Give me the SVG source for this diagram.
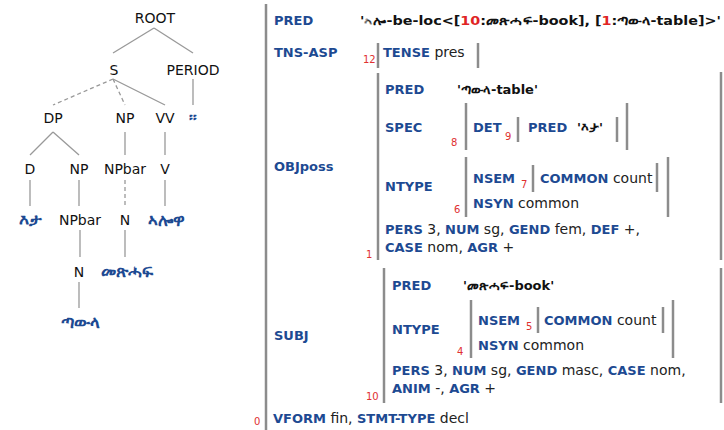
<svg xmlns="http://www.w3.org/2000/svg" width="724" height="430" viewBox="0 0 724 430">
<style>
text{font-family:"DejaVu Sans","Noto Sans",sans-serif;font-size:13px}
.lab{font-weight:bold;fill:#1d4a92}
.v{font-weight:normal;fill:#222;font-size:14px}
.pv{font-weight:bold;fill:#111}
.rn{font-weight:bold;fill:#e02424}
.num{font-size:10px;fill:#e03030}
.bar{stroke:#8c8c8c;stroke-width:2.5;fill:none}
.t{font-size:14px;fill:#111;text-anchor:middle}
.leaf{font-size:17px;font-weight:bold;fill:#1d4a92;text-anchor:middle}
.e{stroke:#999;stroke-width:1.3;fill:none}
.d{stroke:#999;stroke-width:1.3;fill:none;stroke-dasharray:4 3}
</style>
<rect width="724" height="430" fill="#fff"/>
<g id="connectors">
<line class="e" x1="154" y1="28" x2="113" y2="53"/>
<line class="e" x1="154" y1="28" x2="193" y2="53"/>
<line class="d" x1="113" y1="79" x2="53" y2="105"/>
<line class="d" x1="113" y1="79" x2="125" y2="105"/>
<line class="e" x1="113" y1="79" x2="165" y2="105"/>
<line class="e" x1="193" y1="79" x2="193" y2="105"/>
<line class="e" x1="53" y1="132" x2="30" y2="155"/>
<line class="e" x1="53" y1="132" x2="79" y2="155"/>
<line class="e" x1="125" y1="132" x2="125" y2="155"/>
<line class="e" x1="165" y1="132" x2="165" y2="155"/>
<line class="e" x1="30" y1="180" x2="30" y2="206"/>
<line class="e" x1="79" y1="180" x2="79" y2="206"/>
<line class="d" x1="125" y1="180" x2="125" y2="206"/>
<line class="e" x1="165" y1="180" x2="165" y2="206"/>
<line class="e" x1="80" y1="230" x2="80" y2="257"/>
<line class="e" x1="125" y1="230" x2="125" y2="257"/>
<line class="e" x1="79" y1="282" x2="79" y2="308"/>
</g>
<g id="n-root"><text class="t" x="155" y="23">ROOT</text></g>
<g id="n-s"><text class="t" x="114" y="75">S</text></g>
<g id="n-period"><text class="t" x="193" y="75">PERIOD</text></g>
<g id="n-stop"><text class="leaf" x="193" y="123">።</text></g>
<g id="n-dp"><text class="t" x="53" y="123">DP</text></g>
<g id="n-np1"><text class="t" x="125" y="123">NP</text></g>
<g id="n-vv"><text class="t" x="165" y="123">VV</text></g>
<g id="n-d"><text class="t" x="30" y="174">D</text></g>
<g id="n-np2"><text class="t" x="79" y="174">NP</text></g>
<g id="n-npbar1"><text class="t" x="125" y="174">NPbar</text></g>
<g id="n-v"><text class="t" x="165" y="174">V</text></g>
<g id="n-eta"><text class="leaf" x="30" y="226">እታ</text></g>
<g id="n-npbar2"><text class="t" x="80" y="225">NPbar</text></g>
<g id="n-n1"><text class="t" x="125" y="225">N</text></g>
<g id="n-alowa"><text class="leaf" x="166" y="226">ኣሎዋ</text></g>
<g id="n-n2"><text class="t" x="79" y="277">N</text></g>
<g id="n-metshaf"><text class="leaf" x="127" y="277">መጽሓፍ</text></g>
<g id="n-tawla"><text class="leaf" x="80" y="328">ጣውላ</text></g>

<g id="fstructure">
<line class="bar" x1="266" y1="4" x2="266" y2="430"/>
<text class="lab" x="274" y="25">PRED</text>
<text class="pv" x="360" y="25" textLength="361" lengthAdjust="spacingAndGlyphs">'ኣሎ-be-loc&lt;[<tspan class="rn">10</tspan>:መጽሓፍ-book], [<tspan class="rn">1</tspan>:ጣውላ-table]&gt;'</text>
<text class="lab" x="274" y="57">TNS-ASP</text>
<text class="num" x="363" y="63">12</text>
<line class="bar" x1="378" y1="43" x2="378" y2="68"/>
<text class="lab" x="383" y="57">TENSE <tspan class="v">pres</tspan></text>
<line class="bar" x1="478" y1="43" x2="478" y2="68"/>

<text class="lab" x="274" y="171">OBJposs</text>
<line class="bar" x1="378" y1="73" x2="378" y2="260"/>
<text class="num" x="366" y="258">1</text>
<line class="bar" x1="721" y1="72" x2="721" y2="260"/>
<text class="lab" x="385" y="94">PRED</text>
<text class="pv" x="457" y="94">'ጣውላ-table'</text>
<text class="lab" x="385" y="132">SPEC</text>
<text class="num" x="451" y="146">8</text>
<line class="bar" x1="466" y1="103" x2="466" y2="150"/>
<text class="lab" x="473" y="132">DET</text>
<text class="num" x="505" y="140">9</text>
<line class="bar" x1="518" y1="117" x2="518" y2="142"/>
<text class="lab" x="528" y="132">PRED</text>
<text class="pv" x="577" y="132">'እታ'</text>
<line class="bar" x1="617" y1="117" x2="617" y2="142"/>
<line class="bar" x1="627" y1="103" x2="627" y2="150"/>
<text class="lab" x="385" y="191">NTYPE</text>
<text class="num" x="454" y="213">6</text>
<line class="bar" x1="466" y1="157" x2="466" y2="217"/>
<text class="lab" x="473" y="183">NSEM</text>
<text class="num" x="521" y="188">7</text>
<line class="bar" x1="533" y1="165" x2="533" y2="192"/>
<text class="lab" x="540" y="183">COMMON <tspan class="v">count</tspan></text>
<line class="bar" x1="657" y1="163" x2="657" y2="192"/>
<line class="bar" x1="668" y1="157" x2="668" y2="217"/>
<text class="lab" x="473" y="208">NSYN <tspan class="v">common</tspan></text>
<text class="lab" x="385" y="234">PERS<tspan class="v"> 3, </tspan>NUM<tspan class="v"> sg, </tspan>GEND<tspan class="v"> fem, </tspan>DEF<tspan class="v"> +,</tspan></text>
<text class="lab" x="385" y="252">CASE<tspan class="v"> nom, </tspan>AGR<tspan class="v"> +</tspan></text>

<text class="lab" x="274" y="340">SUBJ</text>
<line class="bar" x1="384" y1="268" x2="384" y2="403"/>
<text class="num" x="366" y="400">10</text>
<line class="bar" x1="721" y1="268" x2="721" y2="403"/>
<text class="lab" x="392" y="290">PRED</text>
<text class="pv" x="463" y="290">'መጽሓፍ-book'</text>
<text class="lab" x="392" y="334">NTYPE</text>
<text class="num" x="457" y="355">4</text>
<line class="bar" x1="471" y1="300" x2="471" y2="358"/>
<text class="lab" x="478" y="325">NSEM</text>
<text class="num" x="526" y="330">5</text>
<line class="bar" x1="538" y1="307" x2="538" y2="333"/>
<text class="lab" x="544" y="325">COMMON <tspan class="v">count</tspan></text>
<line class="bar" x1="663" y1="307" x2="663" y2="333"/>
<line class="bar" x1="673" y1="300" x2="673" y2="358"/>
<text class="lab" x="478" y="350">NSYN <tspan class="v">common</tspan></text>
<text class="lab" x="392" y="375">PERS<tspan class="v"> 3, </tspan>NUM<tspan class="v"> sg, </tspan>GEND<tspan class="v"> masc, </tspan>CASE<tspan class="v"> nom,</tspan></text>
<text class="lab" x="392" y="393">ANIM<tspan class="v"> -, </tspan>AGR<tspan class="v"> +</tspan></text>

<text class="num" x="254" y="425">0</text>
<text class="lab" x="273" y="423">VFORM<tspan class="v"> fin, </tspan>STMT-TYPE<tspan class="v"> decl</tspan></text>
</g>
</svg>
